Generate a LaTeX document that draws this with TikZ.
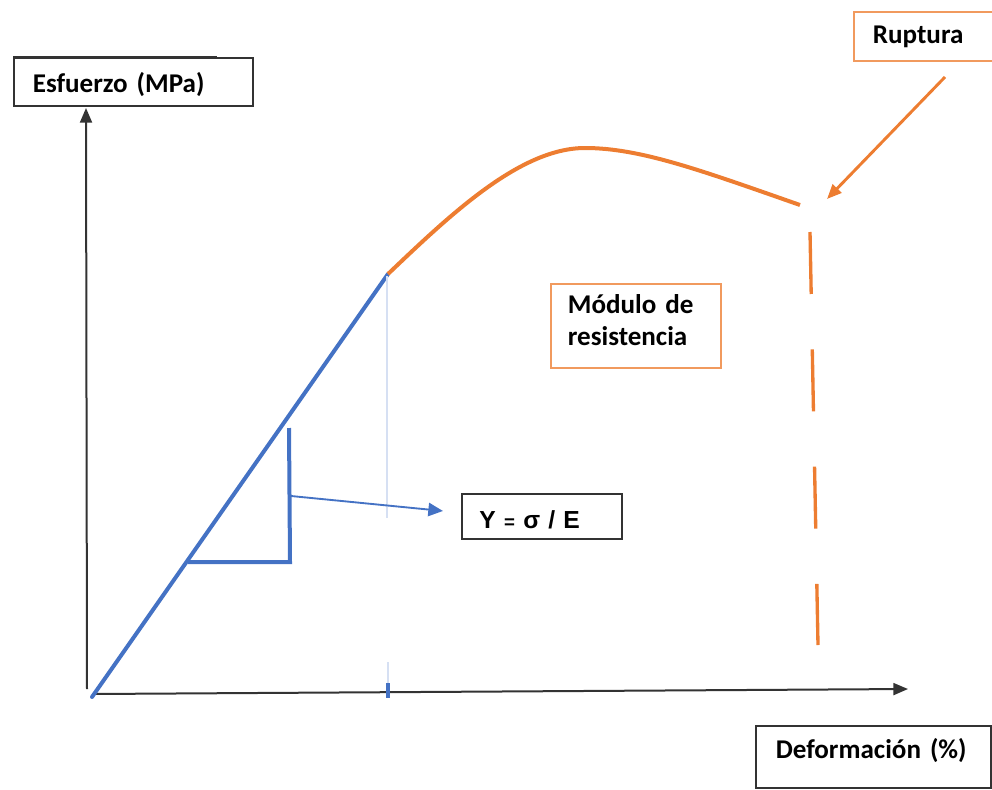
\documentclass[tikz,border=0pt]{standalone}
\usepackage{fontspec}
\setmainfont{Carlito}
\newfontfamily\formulafont{Liberation Sans}
\usetikzlibrary{arrows.meta}
\definecolor{curveblue}{HTML}{4472C4}
\definecolor{curveorange}{HTML}{ED7D31}
\definecolor{boxorange}{HTML}{F19A5E}
\definecolor{axisgray}{HTML}{333333}
\definecolor{guideblue}{HTML}{D6E0F3}

\tikzset{
  labelbox/.style={anchor=north west, inner ysep=0pt, align=left,
    font=\bfseries\fontsize{20.3pt}{24pt}\selectfont},
  blackbox/.style={labelbox, draw=axisgray, line width=1.2pt},
  orangebox/.style={labelbox, draw=boxorange, line width=1.3pt},
  axisline/.style={draw=axisgray, line width=1.5pt, -{Triangle[length=11pt,width=9pt]}},
  elastic/.style={draw=curveblue, line width=3pt},
  plastic/.style={draw=curveorange, line width=3pt},
}

\begin{document}
\begin{tikzpicture}[x=0.75pt,y=-0.75pt]
\useasboundingbox (0,0) rectangle (992,789);

% axes
\coordinate (ybot) at (87,689);
\coordinate (ytop) at (86,108);
\coordinate (xleft) at (93,694);
\coordinate (xright) at (908,689);
\draw[axisline] (ybot) -- (ytop);
\draw[axisline] (xleft) -- (xright);

% elastic region
\coordinate (origin) at (92,697);
\coordinate (yield) at (388,274);
\draw[elastic, line cap=round] (origin) -- (yield);

% thin guide and tick under the yield point
\coordinate (guidetop) at (387,276);
\coordinate (guidebot) at (387,518);
\draw[guideblue, line width=0.8pt] (guidetop) -- (guidebot);
\coordinate (tickA) at (388,662);
\coordinate (tickB) at (388,683);
\coordinate (tickC) at (388,698);
\draw[guideblue, line width=0.8pt] (tickA) -- (tickB);
\draw[curveblue, line width=3pt] (tickB) -- (tickC);

% plastic region up to rupture
\coordinate (peak) at (585,148);
\coordinate (rupt) at (800,205);
\draw[plastic] (yield) .. controls (450,215) and (520,148) .. (peak)
  .. controls (640,148) and (700,170) .. (rupt);

% rupture strain marker
\coordinate (dashtop) at (810,232);
\coordinate (dashbot) at (818,645);
\draw[curveorange, line width=2.5pt, dash pattern=on 46.5pt off 41.5pt] (dashtop) -- (dashbot);

% slope triangle
\coordinate (triTop) at (289,428);
\coordinate (triCorner) at (290,562);
\coordinate (triLeft) at (188,562);
\draw[elastic, line join=miter] (triTop) -- (triCorner) -- (triLeft);

% labels
\node[blackbox, text width=150.75pt, inner xsep=14.25pt,
  text height=26.25pt, text depth=9.75pt] (esf) at (13,57) {Esfuerzo (MPa)};
\draw[axisgray, line width=1.8pt] ([yshift=-0.5pt]esf.north west) -- ++(204,0);

\node[orangebox, text width=81.75pt, inner xsep=14.25pt,
  text height=24pt, text depth=12.75pt] (rup) at (853,11) {Ruptura};

\node[orangebox, text width=102pt, inner xsep=12.75pt,
  text height=22.5pt, text depth=40.5pt] (mod) at (550,283) {Módulo de\\resistencia};

\node[blackbox, text width=97.5pt, inner xsep=11.25pt,
  text height=26.25pt, text depth=7.5pt,
  font=\formulafont\bfseries\fontsize{18.5pt}{22pt}\selectfont] (young) at (461,493)
  {\hspace*{2pt}Y {\fontsize{14pt}{16pt}\selectfont =} σ / E};

\node[blackbox, text width=146.25pt, inner xsep=15pt,
  text height=24.75pt, text depth=21.75pt] (def) at (755,725) {Deformación (\%)};

% pointers
\coordinate (slopeMid) at (291,496);
\draw[curveblue, line width=1.4pt, -{Triangle[length=11pt,width=10pt]}] (slopeMid) -- ([xshift=-13.5pt,yshift=4pt]young.west);
\coordinate (rupStart) at (945,77);
\coordinate (rupEnd) at (827,199);
\draw[curveorange, line width=2.2pt, -{Triangle[length=11pt,width=9pt]}] (rupStart) -- (rupEnd);
\end{tikzpicture}
\end{document}
